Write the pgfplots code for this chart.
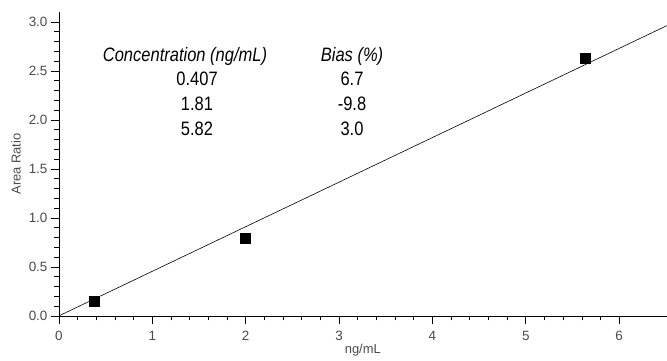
\documentclass[border=0pt]{standalone}
\usepackage{pgfplots}
\pgfplotsset{compat=1.18}
\usepackage{fontspec}
\setmainfont{Liberation Sans}
\newfontfamily\condfont[FakeStretch=0.85]{Liberation Sans}
\definecolor{tickgray}{HTML}{4A4A4A}
\begin{document}
\begin{tikzpicture}
\begin{axis}[
  scale only axis,
  width=608bp, height=304bp,
  xmin=0, xmax=6.51, ymin=0, ymax=3.1,
  axis lines=left,
  axis line style={-, black, line width=0.6pt},
  xtick={0,1,2,3,4,5,6},
  ytick={0,0.5,1,1.5,2,2.5,3},
  yticklabel style={/pgf/number format/.cd, fixed, fixed zerofill, precision=1},
  xticklabel style={yshift=-4bp},
  minor x tick num=4,
  minor y tick num=4,
  tick align=outside,
  major tick length=8bp,
  minor tick length=4.5bp,
  tick style={black, line width=0.5pt},
  ticklabel style={font=\fontsize{13.5}{15}\selectfont, text=tickgray},
  /pgf/number format/assume math mode=true,
  xlabel={ng/mL}, ylabel={Area Ratio},
  label style={font=\fontsize{13}{15}\selectfont, text=tickgray},
  xlabel style={at={(axis description cs:0.5,0)}, anchor=center, yshift=-34bp},
  ylabel style={at={(axis description cs:0,0.5)}, anchor=center, yshift=43bp},
  clip=false,
]
\addplot[black, line width=0.6pt, no markers] coordinates {(0,0) (6.51,2.96)};
\addplot[only marks, mark=square*, mark size=5bp, black] coordinates {
  (0.38,0.15) (2.0,0.79) (5.64,2.63)};
\node[font=\condfont\fontsize{19.5}{21}\selectfont\itshape, anchor=base] at (axis cs:1.35,2.59) {Concentration (ng/mL)};
\node[font=\condfont\fontsize{19.5}{21}\selectfont\itshape, anchor=base] at (axis cs:3.139,2.59) {Bias (\%)};
\node[font=\condfont\fontsize{19.5}{21}\selectfont, anchor=base] at (axis cs:1.479,2.347) {0.407};
\node[font=\condfont\fontsize{19.5}{21}\selectfont, anchor=base] at (axis cs:1.479,2.092) {1.81};
\node[font=\condfont\fontsize{19.5}{21}\selectfont, anchor=base] at (axis cs:1.479,1.837) {5.82};
\node[font=\condfont\fontsize{19.5}{21}\selectfont, anchor=base] at (axis cs:3.139,2.347) {6.7};
\node[font=\condfont\fontsize{19.5}{21}\selectfont, anchor=base] at (axis cs:3.139,2.092) {-9.8};
\node[font=\condfont\fontsize{19.5}{21}\selectfont, anchor=base] at (axis cs:3.139,1.837) {3.0};
\end{axis}
\path[use as bounding box] ([xshift=-59bp,yshift=-45bp]current axis.south west) rectangle ([yshift=12bp]current axis.north east);
\end{tikzpicture}
\end{document}
